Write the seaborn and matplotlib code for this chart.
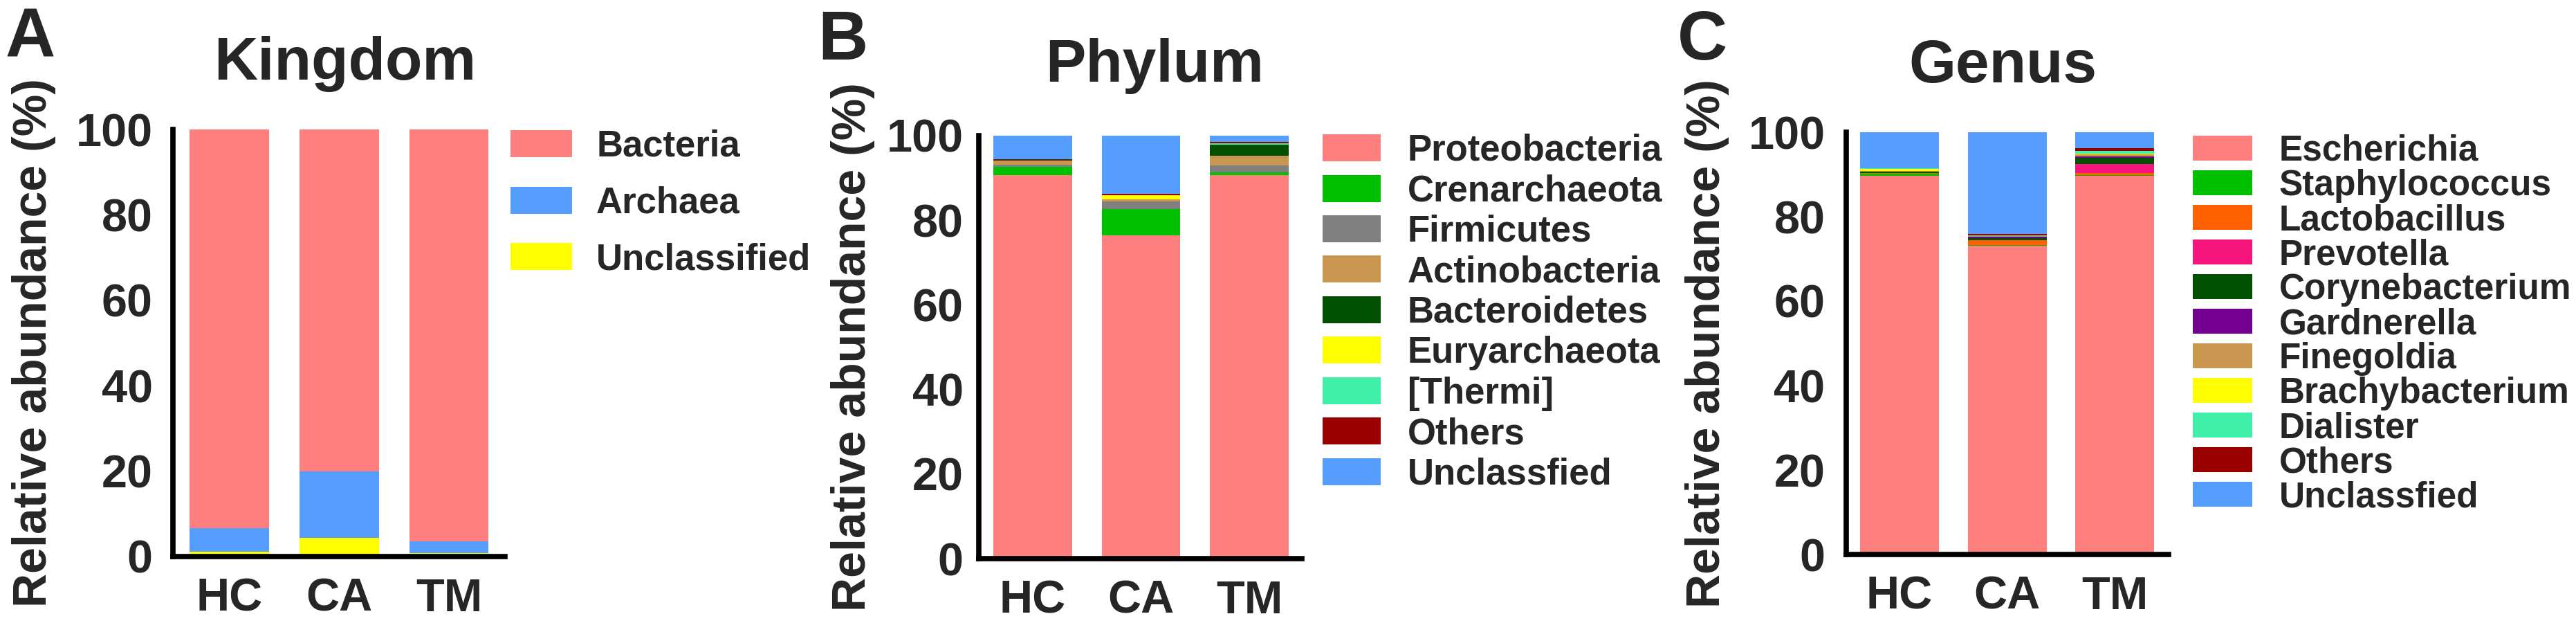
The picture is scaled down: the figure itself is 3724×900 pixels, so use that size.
"""
Stacked relative-abundance bar charts (Kingdom / Phylum / Genus) for HC, CA and TM groups.
"""

import matplotlib
matplotlib.use('Agg')
import matplotlib.pyplot as plt
from matplotlib.patches import Patch
import seaborn as sns
import numpy as np


# Set style
sns.set_style("white")
plt.rcParams['font.family'] = ['Liberation Sans', 'DejaVu Sans']
plt.rcParams['font.weight'] = 'bold'
plt.rcParams['axes.labelweight'] = 'bold'
plt.rcParams['axes.titleweight'] = 'bold'

W, H, DPI = 3724, 900, 100

# ---------------- data ----------------
groups = ['HC', 'CA', 'TM']

# Kingdom (stack order bottom -> top)
kingdom_taxa = ['Unclassified', 'Archaea', 'Bacteria']
kingdom_unclassified = [1.2, 4.3, 0.8]
kingdom_archaea = [5.5, 15.7, 2.7]
kingdom_bacteria = [93.3, 80.0, 96.5]

# Phylum (stack order bottom -> top)
phylum_taxa = ['Proteobacteria', 'Crenarchaeota', 'Firmicutes', 'Actinobacteria',
               'Bacteroidetes', 'Euryarchaeota', '[Thermi]', 'Others', 'Unclassfied']
phylum_proteobacteria = [90.6, 76.4, 90.6]
phylum_crenarchaeota = [2.0, 6.3, 0.8]
phylum_firmicutes = [0.6, 1.7, 1.5]
phylum_actinobacteria = [0.9, 0.5, 2.3]
phylum_bacteroidetes = [0.1, 0.1, 2.6]
phylum_euryarchaeota = [0.1, 0.9, 0.1]
phylum_thermi = [0.05, 0.1, 0.3]
phylum_others = [0.05, 0.2, 0.4]
phylum_unclassified = [5.6, 13.8, 1.4]

# Genus (stack order bottom -> top)
genus_taxa = ['Escherichia', 'Staphylococcus', 'Lactobacillus', 'Prevotella',
              'Corynebacterium', 'Gardnerella', 'Finegoldia', 'Brachybacterium',
              'Dialister', 'Others', 'Unclassfied']
genus_escherichia = [89.7, 73.1, 89.7]
genus_staphylococcus = [0.5, 0.1, 0.1]
genus_lactobacillus = [0.1, 1.2, 0.6]
genus_prevotella = [0.1, 0.1, 2.0]
genus_corynebacterium = [0.2, 0.4, 1.6]
genus_gardnerella = [0.05, 0.4, 0.3]
genus_finegoldia = [0.1, 0.1, 0.5]
genus_brachybacterium = [0.6, 0.05, 0.1]
genus_dialister = [0.05, 0.05, 0.6]
genus_others = [0.1, 0.4, 0.8]
genus_unclassified = [8.5, 24.1, 3.7]

# ---------------- colours ----------------
PINK = '#FF7F7F'
BLUE = '#559EFF'
YELLOW = '#FFFF00'
GREEN = '#00C000'
GRAY = '#808080'
TAN = '#C8964F'
DKGREEN = '#005000'
AQUA = '#40F0A8'
DKRED = '#9B0000'
ORANGE = '#FF6000'
MAGENTA = '#F5157D'
PURPLE = '#73008F'

kingdom_colors = [YELLOW, BLUE, PINK]
phylum_colors = [PINK, GREEN, GRAY, TAN, DKGREEN, YELLOW, AQUA, DKRED, BLUE]
genus_colors = [PINK, GREEN, ORANGE, MAGENTA, DKGREEN, PURPLE, TAN, YELLOW,
                AQUA, DKRED, BLUE]


def px_rect(left, right, top, bottom):
    """Axes rectangle from pixel edges (origin top-left)."""
    return [left / W, 1 - bottom / H, (right - left) / W, (bottom - top) / H]


def plot_stacked(fig, values, taxa, colors, title, layout, legend_reverse=False):
    ax = fig.add_axes(px_rect(*layout['rect']))

    cum = np.cumsum(np.array(values, dtype=float), axis=0)
    # draw from the top layer down so each shorter bar overlays the taller one
    for i in range(len(taxa) - 1, -1, -1):
        sns.barplot(x=groups, y=cum[i], color=colors[i], saturation=1,
                    width=layout['bar_width'], errorbar=None, linewidth=0, ax=ax)

    ax.set_xlim(layout['xlim'])
    ax.set_ylim(0, 100)
    ax.set_yticks(np.arange(0, 101, 20))

    sns.despine(ax=ax)
    for side in ['left', 'bottom']:
        ax.spines[side].set_linewidth(5.5)
        ax.spines[side].set_color('black')
    ax.tick_params(axis='both', direction='out', length=12, width=5,
                   labelsize=48, pad=layout['tick_pad'], color='black')
    ax.tick_params(axis='x', length=14, pad=8)

    ax.set_ylabel('Relative abundance (%)', fontsize=49, labelpad=layout['labelpad'])
    ax.set_xlabel('')
    ax.set_title(title, fontsize=63, pad=layout['title_pad'], x=layout['title_x'])

    handles = [Patch(facecolor=c, edgecolor='none') for c in colors]
    labels = list(taxa)
    if legend_reverse:
        handles, labels = handles[::-1], labels[::-1]
    lx, ltop = layout['legend_xy']
    fig.legend(handles, labels, loc='upper left',
               bbox_to_anchor=(lx / W, 1 - ltop / H),
               frameon=False, borderpad=0, borderaxespad=0,
               handlelength=layout['handlelength'],
               handleheight=layout['handleheight'],
               handletextpad=layout['handletextpad'],
               labelspacing=layout['labelspacing'],
               prop={'weight': 'bold', 'size': layout['legend_fs']})

    lx, ly = layout['letter_xy']
    fig.text(lx / W, 1 - ly / H, layout['letter'], fontsize=72,
             fontweight='bold', ha='left', va='baseline')
    return ax


layout_a = dict(rect=(250, 730, 187, 804), xlim=(-0.517, 2.511), bar_width=0.725,
                tick_pad=9, labelpad=21, title_pad=52, title_x=0.519,
                legend_xy=(738, 187), legend_fs=38, handlelength=1.69,
                handleheight=0.76, handletextpad=0.66, labelspacing=0.6,
                letter='A', letter_xy=(8, 82))
layout_b = dict(rect=(1415, 1882, 196, 807), xlim=(-0.498, 2.486), bar_width=0.725,
                tick_pad=4, labelpad=12, title_pad=56, title_x=0.544,
                legend_xy=(1912, 193), legend_fs=38, handlelength=1.59,
                handleheight=0.76, handletextpad=0.74, labelspacing=0.16,
                letter='B', letter_xy=(1182, 86))
layout_c = dict(rect=(2669, 3135, 191, 801), xlim=(-0.495, 2.50), bar_width=0.733,
                tick_pad=10, labelpad=20, title_pad=52, title_x=0.485,
                legend_xy=(3170, 194), legend_fs=37, handlelength=1.67,
                handleheight=0.70, handletextpad=0.76, labelspacing=0.02,
                letter='C', letter_xy=(2425, 86))

fig = plt.figure(figsize=(W / DPI, H / DPI), dpi=DPI)

plot_stacked(fig, [kingdom_unclassified, kingdom_archaea, kingdom_bacteria],
             kingdom_taxa, kingdom_colors, 'Kingdom', layout_a, legend_reverse=True)

plot_stacked(fig, [phylum_proteobacteria, phylum_crenarchaeota, phylum_firmicutes,
                   phylum_actinobacteria, phylum_bacteroidetes, phylum_euryarchaeota,
                   phylum_thermi, phylum_others, phylum_unclassified],
             phylum_taxa, phylum_colors, 'Phylum', layout_b)

plot_stacked(fig, [genus_escherichia, genus_staphylococcus, genus_lactobacillus,
                   genus_prevotella, genus_corynebacterium, genus_gardnerella,
                   genus_finegoldia, genus_brachybacterium, genus_dialister,
                   genus_others, genus_unclassified],
             genus_taxa, genus_colors, 'Genus', layout_c)

plt.savefig('out.png', dpi=DPI)
plt.close()
